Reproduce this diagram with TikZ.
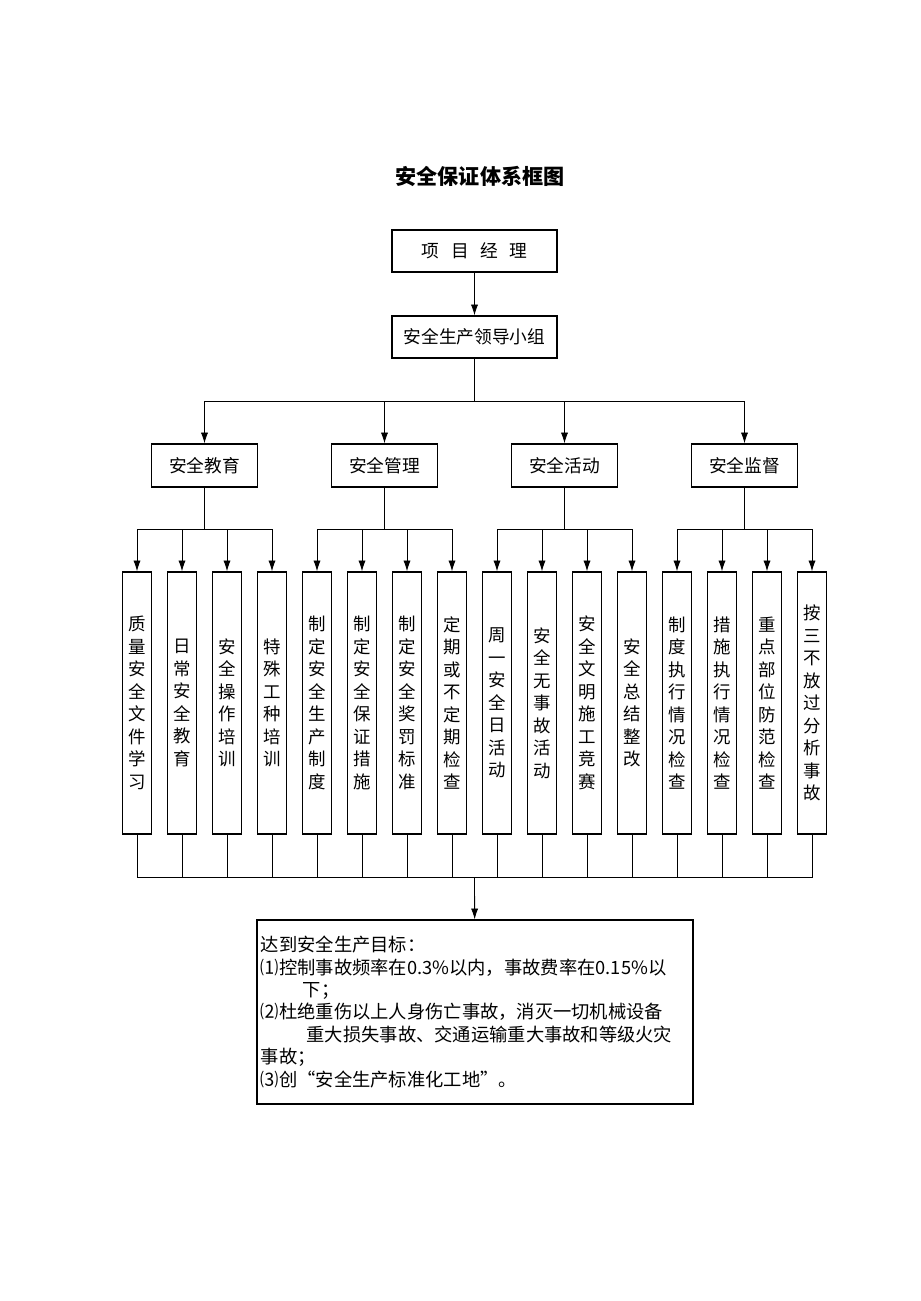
\documentclass[tikz,border=0pt]{standalone}
\usepackage{fontspec}
\setmainfont{Noto Sans CJK SC}
\usetikzlibrary{arrows.meta}

\begin{document}
\begin{tikzpicture}[x=0.025cm, y=-0.025cm,
  box/.style={draw, line width=0.9pt, minimum width=4.125cm, minimum height=1.05cm, font=\fontsize{12.6pt}{15pt}\selectfont},
  grp/.style={draw, line width=0.9pt, minimum width=2.65cm, minimum height=1.075cm, font=\fontsize{12.6pt}{15pt}\selectfont},
  leaf/.style={draw, line width=0.9pt, minimum width=0.725cm, minimum height=6.55cm, inner sep=0pt, align=center, font=\fontsize{12.4pt}{16pt}\selectfont},
  arr/.style={line width=0.6pt, -{Latex[length=2.7mm,width=1.8mm]}},
  ln/.style={line width=0.6pt}]

\useasboundingbox (0,0) rectangle (920,1301);

\node [font=\fontsize{15pt}{18pt}\selectfont\bfseries] (title)  at  (480, 176) {安全保证体系框图};

\node [box] (pm)    at  (474.5, 251) {项\hspace{0.65em}目\hspace{0.65em}经\hspace{0.65em}理};
\node [box] (lead)  at  (474.5, 337) {安全生产领导小组};
\draw   [arr]   (pm) -- (lead);

% -------- four groups -----------
\node [grp] (g1)  at  (204.5, 465.5) {安全教育};
\node [grp] (g2)  at  (384.5, 465.5) {安全管理};
\node [grp] (g3)  at  (564.5, 465.5) {安全活动};
\node [grp] (g4)  at  (744.5, 465.5) {安全监督};

\coordinate (bus)  at  (474.5, 401);
\draw   [ln]    (lead) -- (bus);
\draw   [arr]   (bus) -| (g1);
\draw   [arr]   (bus) -| (g2);
\draw   [arr]   (bus) -| (g3);
\draw   [arr]   (bus) -| (g4);

% -------- leaves -----------
\node [leaf] (l1)   at  (137, 703) {质\\量\\安\\全\\文\\件\\学\\习};
\node [leaf] (l2)   at  (182, 703) {日\\常\\安\\全\\教\\育};
\node [leaf] (l3)   at  (227, 703) {安\\全\\操\\作\\培\\训};
\node [leaf] (l4)   at  (272, 703) {特\\殊\\工\\种\\培\\训};
\node [leaf] (l5)   at  (317, 703) {制\\定\\安\\全\\生\\产\\制\\度};
\node [leaf] (l6)   at  (362, 703) {制\\定\\安\\全\\保\\证\\措\\施};
\node [leaf] (l7)   at  (407, 703) {制\\定\\安\\全\\奖\\罚\\标\\准};
\node [leaf] (l8)   at  (452, 703) {定\\期\\或\\不\\定\\期\\检\\查};
\node [leaf] (l9)   at  (497, 703) {周\\一\\安\\全\\日\\活\\动};
\node [leaf] (l10)  at  (542, 703) {安\\全\\无\\事\\故\\活\\动};
\node [leaf] (l11)  at  (587, 703) {安\\全\\文\\明\\施\\工\\竞\\赛};
\node [leaf] (l12)  at  (632, 703) {安\\全\\总\\结\\整\\改};
\node [leaf] (l13)  at  (677, 703) {制\\度\\执\\行\\情\\况\\检\\查};
\node [leaf] (l14)  at  (722, 703) {措\\施\\执\\行\\情\\况\\检\\查};
\node [leaf] (l15)  at  (767, 703) {重\\点\\部\\位\\防\\范\\检\\查};
\node [leaf] (l16)  at  (812, 703) {按\\三\\不\\放\\过\\分\\析\\事\\故};

% group -> leaves
\coordinate (j1)  at  (204.5, 529.5);
\coordinate (j2)  at  (384.5, 529.5);
\coordinate (j3)  at  (564.5, 529.5);
\coordinate (j4)  at  (744.5, 529.5);
\draw   [ln]    (g1) -- (j1);
\draw   [ln]    (g2) -- (j2);
\draw   [ln]    (g3) -- (j3);
\draw   [ln]    (g4) -- (j4);
\draw   [arr]   (j1) -| (l1);
\draw   [arr]   (j1) -| (l2);
\draw   [arr]   (j1) -| (l3);
\draw   [arr]   (j1) -| (l4);
\draw   [arr]   (j2) -| (l5);
\draw   [arr]   (j2) -| (l6);
\draw   [arr]   (j2) -| (l7);
\draw   [arr]   (j2) -| (l8);
\draw   [arr]   (j3) -| (l9);
\draw   [arr]   (j3) -| (l10);
\draw   [arr]   (j3) -| (l11);
\draw   [arr]   (j3) -| (l12);
\draw   [arr]   (j4) -| (l13);
\draw   [arr]   (j4) -| (l14);
\draw   [arr]   (j4) -| (l15);
\draw   [arr]   (j4) -| (l16);

% -------- bottom goal -----------
\coordinate (sink)  at  (474.5, 877);
\draw   [ln]    (l1) |- (sink);  \draw [ln] (l2) |- (sink);
\draw   [ln]    (l3) |- (sink);  \draw [ln] (l4) |- (sink);
\draw   [ln]    (l5) |- (sink);  \draw [ln] (l6) |- (sink);
\draw   [ln]    (l7) |- (sink);  \draw [ln] (l8) |- (sink);
\draw   [ln]    (l9) |- (sink);  \draw [ln] (l10) |- (sink);
\draw   [ln]    (l11) |- (sink); \draw [ln] (l12) |- (sink);
\draw   [ln]    (l13) |- (sink); \draw [ln] (l14) |- (sink);
\draw   [ln]    (l15) |- (sink); \draw [ln] (l16) |- (sink);

\node [draw, line width=0.9pt, minimum width=10.885cm, minimum height=4.6cm, text width=10.7cm, inner sep=0.1cm, align=left,
       font=\fontsize{13pt}{15.9pt}\selectfont] (goal)  at  (475, 1012)
  {达到安全生产目标：\\
   ⑴控制事故频率在0.3\%以内，事故费率在0.15\%以\\
   \hspace*{2.3em}下；\\
   ⑵杜绝重伤以上人身伤亡事故，消灭一切机械设备\\
   \hspace*{2.5em}重大损失事故、交通运输重大事故和等级火灾\\
   事故；\\
   ⑶创“安全生产标准化工地”。};
\draw   [arr]   (sink) -- (goal);

\end{tikzpicture}
\end{document}
